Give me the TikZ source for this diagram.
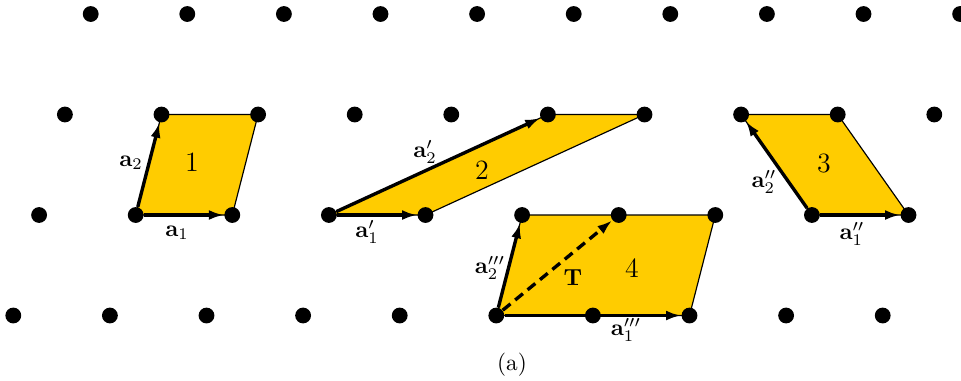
\documentclass[tikz,border=0pt]{standalone}
\usetikzlibrary{arrows.meta}
\pgfdeclarelayer{bg}
\pgfsetlayers{bg,main}
\definecolor{cellyellow}{RGB}{255,204,0}
\begin{document}
\begin{tikzpicture}[x=0.43pt,y=-0.43pt,
  dot/.style={circle,fill=black,inner sep=0pt,minimum size=6.8pt},
  cell/.style={fill=cellyellow,draw=black,line width=0.5pt},
  vec/.style={-{Latex[length=6.5pt,width=4.3pt]},line width=1.45pt},
  tvec/.style={vec,dash pattern=on 4.3pt off 2.6pt},
  lab/.style={inner sep=0pt,font=\normalsize},
  num/.style={inner sep=0pt,font=\large}]
\useasboundingbox (0,0) rectangle (961,380);
\foreach \r in {0,...,3}{\foreach \k in {0,...,9}{
  \node[dot] (p-\k-\r) at ({90.7-25.8*\r+96.6*\k},{14+100.5*\r}) {};
}}
\begin{pgfonlayer}{bg}
\draw[cell] (p-1-2.center) -- (p-2-2.center) -- (p-2-1.center) -- (p-1-1.center) -- cycle;
\draw[cell] (p-3-2.center) -- (p-4-2.center) -- (p-6-1.center) -- (p-5-1.center) -- cycle;
\draw[cell] (p-8-2.center) -- (p-9-2.center) -- (p-8-1.center) -- (p-7-1.center) -- cycle;
\draw[cell] (p-5-3.center) -- (p-7-3.center) -- (p-7-2.center) -- (p-5-2.center) -- cycle;
\end{pgfonlayer}
% vectors
\draw[vec] (p-1-2) -- (p-2-2);
\draw[vec] (p-1-2) -- (p-1-1);
\draw[vec] (p-3-2) -- (p-4-2);
\draw[vec] (p-3-2) -- (p-5-1);
\draw[vec] (p-8-2) -- (p-9-2);
\draw[vec] (p-8-2) -- (p-7-1);
\draw[vec] (p-5-3) -- (p-7-3);
\draw[vec] (p-5-3) -- (p-5-2);
\draw[tvec] (p-5-3) -- (p-6-2);
% labels
\node[lab] (l-a2) at (131,163) {$\mathbf{a}_2$};
\node[lab] (l-a1) at (177,233) {$\mathbf{a}_1$};
\node[lab] (l-a2p) at (425,152) {$\mathbf{a}'_2$};
\node[lab] (l-a1p) at (367,232) {$\mathbf{a}'_1$};
\node[lab] (l-a2pp) at (764,182) {$\mathbf{a}''_2$};
\node[lab] (l-a1pp) at (852,234) {$\mathbf{a}''_1$};
\node[lab] (l-a2ppp) at (490,268) {$\mathbf{a}'''_2$};
\node[lab] (l-a1ppp) at (626,330) {$\mathbf{a}'''_1$};
\node[lab] (l-T) at (573,278) {$\mathbf{T}$};
\node[num] (n1) at (192,162) {1};
\node[num] (n2) at (482,170) {2};
\node[num] (n3) at (824,164) {3};
\node[num] (n4) at (632,268) {4};
\node[lab] (cap) at (512,365) {(a)};
\end{tikzpicture}
\end{document}
